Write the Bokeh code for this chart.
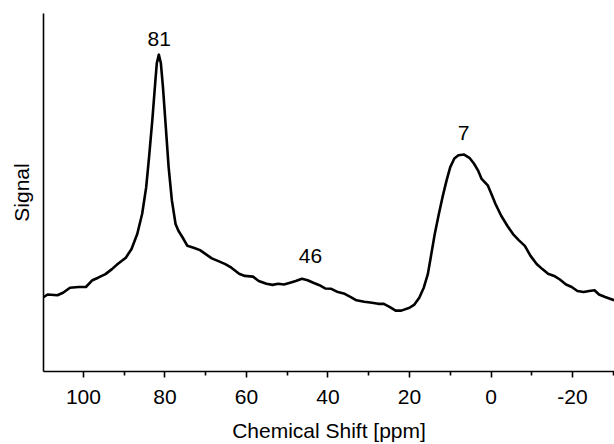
from bokeh.plotting import figure
from bokeh.models import Range1d, FixedTicker
from bokeh.core.properties import value
from bokeh.embed import file_html
from bokeh.resources import INLINE

# Chemical shift (ppm) and signal (arbitrary units, 0 = baseline axis, 100 = top)
shift_ppm = [110.0, 108.8, 106.4, 105.0, 103.3, 101.2, 99.4, 97.8, 96.4, 94.6, 93.0, 91.6,
             89.6, 88.2, 86.8, 85.6, 84.6, 83.9, 83.1, 82.4, 82.0, 81.5, 81.0, 80.5, 79.8,
             79.1, 78.3, 77.4, 76.7, 75.7, 74.5, 72.8, 71.4, 70.0, 68.5, 66.6, 65.2, 63.7,
             61.8, 60.4, 58.4, 57.0, 55.1, 53.6, 52.2, 50.8, 49.3, 47.9, 46.4, 45.0, 43.6,
             42.1, 40.7, 39.2, 37.8, 35.9, 34.4, 33.0, 31.1, 29.2, 27.7, 26.3, 24.8, 23.4,
             22.0, 20.0, 18.8, 17.6, 16.5, 15.5, 14.8, 13.8, 12.8, 11.9, 10.9, 10.0, 9.0,
             8.0, 6.6, 5.3, 4.2, 3.2, 2.3, 0.8, -0.1, -1.1, -2.5, -4.0, -5.4, -6.8, -8.3,
             -9.7, -11.2, -12.6, -14.0, -15.5, -16.9, -18.4, -19.8, -21.2, -22.7, -24.1,
             -25.4, -26.5, -28.0, -30.2]
signal = [20.6, 21.5, 21.3, 22.0, 23.4, 23.6, 23.6, 25.5, 26.2, 27.2, 28.6, 30.0,
          31.8, 34.2, 38.4, 44.0, 51.5, 59.9, 70.2, 80.5, 86.1, 88.5, 86.1, 79.6, 68.4,
          57.1, 47.8, 41.2, 39.3, 37.5, 35.1, 34.5, 33.9, 32.8, 31.6, 30.7, 30.0, 29.0,
          27.3, 26.7, 26.5, 25.3, 24.5, 24.2, 24.5, 24.3, 24.8, 25.3, 25.9, 25.5, 24.8,
          24.1, 23.2, 23.1, 22.3, 21.7, 20.8, 19.9, 19.5, 19.2, 18.9, 18.9, 18.0, 17.0,
          17.0, 17.8, 18.7, 20.6, 23.4, 27.2, 31.8, 38.4, 44.0, 48.7, 53.4, 57.1, 59.5,
          60.4, 60.6, 59.7, 58.1, 56.2, 53.8, 52.0, 49.6, 46.8, 43.5, 40.7, 38.4, 36.7, 35.1,
          32.3, 30.0, 28.6, 27.3, 26.7, 25.7, 24.3, 23.6, 22.5, 22.2, 22.5,
          22.7, 21.5, 20.8, 19.9]

# Peak annotations
peak_labels = ["81", "46", "7"]
peak_x = [81.4, 44.3, 6.7]
peak_y = [93.0, 32.2, 66.5]

major_ticks = [100, 80, 60, 40, 20, 0, -20]
major_tick_labels = ["100", "80", "60", "40", "20", "0", "-20"]
minor_ticks = [110, 90, 70, 50, 30, 10, -10, -30]

FONT = "Liberation Sans"
FS = "21px"

p = figure(width=614, height=444, output_backend="svg", toolbar_location=None,
           x_range=Range1d(109.8, -30.3), y_range=Range1d(0, 100),
           min_border_left=43, min_border_right=0, min_border_top=13, min_border_bottom=72)

p.line(shift_ppm, signal, line_color="black", line_width=2.6, line_join="round")

p.text(x=peak_x, y=peak_y, text=peak_labels, text_align="center", text_baseline="middle",
       text_font=value(FONT), text_font_size=FS, text_color="black")

p.outline_line_color = None
p.xgrid.grid_line_color = None
p.ygrid.grid_line_color = None
p.background_fill_color = "white"
p.border_fill_color = "white"

xa = p.xaxis[0]
xa.ticker = FixedTicker(ticks=major_ticks, minor_ticks=minor_ticks)
xa.major_label_overrides = dict(zip(major_ticks, major_tick_labels))
xa.axis_label = "Chemical Shift [ppm]"
xa.axis_label_text_font = FONT
xa.axis_label_text_font_size = FS
xa.axis_label_text_font_style = "normal"
xa.axis_label_text_color = "black"
xa.axis_label_standoff = 12
xa.major_label_text_font = FONT
xa.major_label_text_font_size = FS
xa.major_label_text_color = "black"
xa.major_label_standoff = 12
xa.axis_line_width = 1.6
xa.axis_line_color = "black"
xa.major_tick_line_width = 1.6
xa.minor_tick_line_width = 1.6
xa.major_tick_out = 6
xa.major_tick_in = 0
xa.minor_tick_out = 4
xa.minor_tick_in = 0

ya = p.yaxis[0]
ya.ticker = FixedTicker(ticks=[])
ya.axis_label = "Signal"
ya.axis_label_text_font = FONT
ya.axis_label_text_font_size = FS
ya.axis_label_text_font_style = "normal"
ya.axis_label_text_color = "black"
ya.axis_label_standoff = 11
ya.major_tick_line_color = None
ya.minor_tick_line_color = None
ya.axis_line_width = 1.6
ya.axis_line_color = "black"

open("out.html", "w").write(file_html(p, INLINE))
